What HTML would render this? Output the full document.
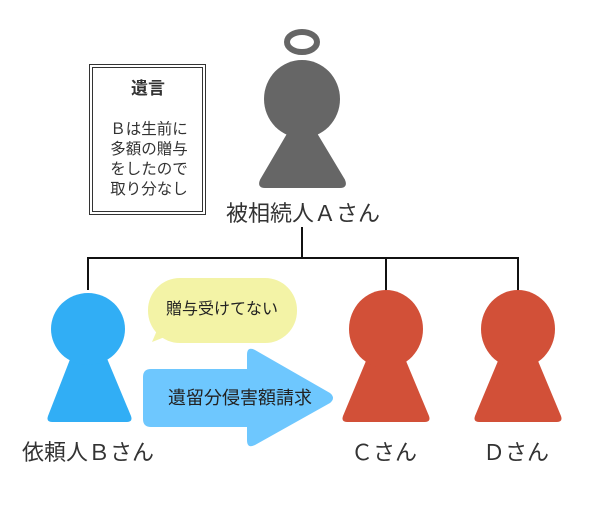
<!DOCTYPE html>
<html><head><meta charset="utf-8"><style>
body{margin:0;background:#fff;}
svg text{font-family:"Liberation Sans","Noto Sans CJK JP",sans-serif;}
</style></head><body>
<svg width="600" height="500" viewBox="0 0 600 500" xmlns="http://www.w3.org/2000/svg">
<rect width="600" height="500" fill="#fff"/>
<!-- Will box -->
<rect x="89.5" y="64.5" width="116" height="150" fill="#fff" stroke="#333" stroke-width="1"/>
<rect x="92.5" y="67.5" width="110" height="144" fill="none" stroke="#333" stroke-width="1"/>
<text x="148" y="94" font-size="17" font-weight="bold" text-anchor="middle" fill="#333">遺言</text>
<g font-size="15.5" text-anchor="middle" fill="#333">
<text x="149" y="134">Ｂは生前に</text>
<text x="149" y="154">多額の贈与</text>
<text x="149" y="174">をしたので</text>
<text x="149" y="194">取り分なし</text>
</g>
<!-- A -->
<ellipse cx="302" cy="42" rx="15" ry="10" fill="none" stroke="#666" stroke-width="6"/>
<path d="M302 110 L344 180 Q347 187 340 187 L265 187 Q258 187 261 180 Z" fill="#666" stroke="#666" stroke-width="2" stroke-linejoin="round"/>
<ellipse cx="302" cy="99" rx="38" ry="39" fill="#666"/>
<text x="303" y="221" font-size="22" text-anchor="middle" fill="#333">被相続人Ａさん</text>
<!-- tree lines -->
<g stroke="#111" stroke-width="2" fill="none">
<line x1="302" y1="227" x2="302" y2="258"/>
<line x1="88" y1="258" x2="518" y2="258"/>
<line x1="88" y1="257" x2="88" y2="290"/>
<line x1="386" y1="257" x2="386" y2="293"/>
<line x1="518" y1="257" x2="518" y2="293"/>
</g>
<!-- B -->
<path d="M88 313 L131 416 Q133 422 127 422 L52 422 Q46 422 48 416 Z" fill="#31aef5"/>
<ellipse cx="88" cy="329" rx="37" ry="36" fill="#31aef5"/>
<text x="88" y="460" font-size="22" text-anchor="middle" fill="#333">依頼人Ｂさん</text>
<!-- C -->
<path d="M386 313 L429 416 Q431 422 425 422 L347 422 Q341 422 343 416 Z" fill="#d25038"/>
<ellipse cx="386" cy="329" rx="37" ry="39" fill="#d25038"/>
<text x="384" y="460" font-size="22" text-anchor="middle" fill="#333">Ｃさん</text>
<!-- D -->
<path d="M518 313 L561 416 Q563 422 557 422 L479 422 Q473 422 475 416 Z" fill="#d25038"/>
<ellipse cx="518" cy="329" rx="37" ry="39" fill="#d25038"/>
<text x="516" y="460" font-size="22" text-anchor="middle" fill="#333">Ｄさん</text>
<!-- bubble -->
<path d="M152 342 L158 328 L175 333 Z" fill="#f3f3a6"/>
<rect x="148" y="278" width="149" height="65" rx="32" fill="#f3f3a6"/>
<text x="222" y="314" font-size="16" text-anchor="middle" fill="#222">贈与受けてない</text>
<!-- arrow -->
<path d="M151 369 L247 369 L247 355 Q247 346 255 350 L330 393 Q336 398 330 403 L255 445 Q247 449 247 440 L247 427 L151 427 Q143 427 143 419 L143 377 Q143 369 151 369 Z" fill="#6ec7fe"/>
<text x="240" y="404" font-size="18" text-anchor="middle" fill="#222">遺留分侵害額請求</text>
</svg>
</body></html>
